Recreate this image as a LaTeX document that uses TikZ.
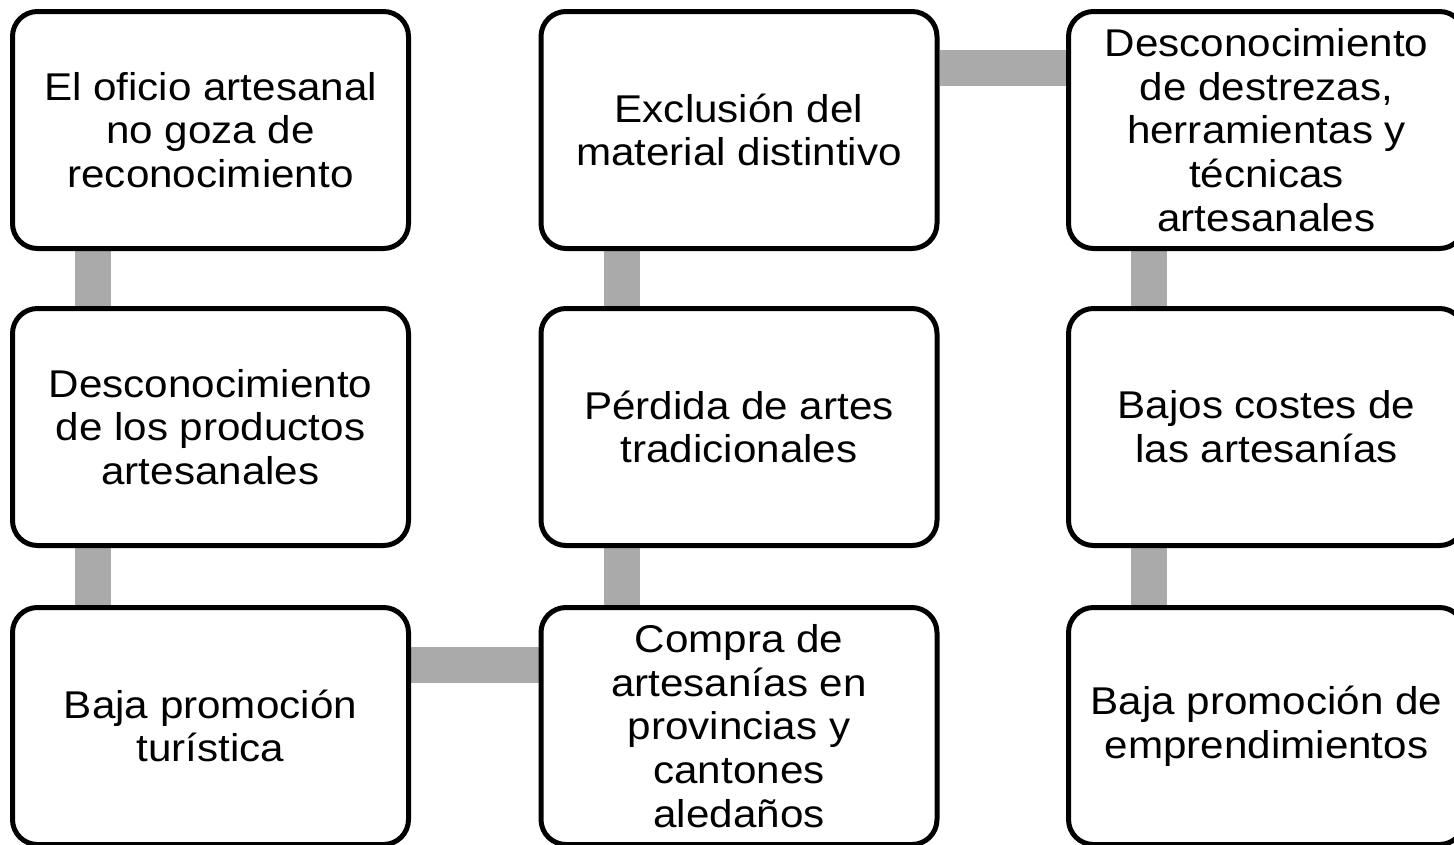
\documentclass[tikz,border=0pt]{standalone}
\usepackage{fontspec}
\setmainfont{Liberation Sans}[FakeStretch=1.09]
\usetikzlibrary{backgrounds}
\definecolor{conngray}{HTML}{AAAAAA}
\tikzset{
  box/.style={draw=black, line width=5pt, fill=white, rounded corners=25pt,
    minimum width=396pt, minimum height=237pt, inner sep=0pt, align=center,
    font=\fontsize{38.7}{43.8}\selectfont},
  conn/.style={draw=conngray, line width=36pt}
}
\begin{document}
\begin{tikzpicture}[x=1pt,y=-1pt]
\useasboundingbox (0,0) rectangle (1454,844);
\node[box] (b1) at (210.5,130) {El oficio artesanal\\no goza de\\reconocimiento};
\node[box] (b2) at (210.5,427) {Desconocimiento\\de los productos\\artesanales};
\node[box] (b3) at (210.5,726) {Baja promoción\\turística};
\node[box] (b4) at (739,130) {Exclusión del\\material distintivo};
\node[box] (b5) at (739,427) {Pérdida de artes\\tradicionales};
\node[box] (b6) at (739,726) {Compra de\\artesanías en\\provincias y\\cantones\\aledaños};
\node[box] (b7) at (1266.5,130) {Desconocimiento\\de destrezas,\\herramientas y\\técnicas\\artesanales};
\node[box] (b8) at (1266.5,427) {Bajos costes de\\las artesanías};
\node[box] (b9) at (1266.5,726) {Baja promoción de\\emprendimientos};
\begin{pgfonlayer}{background}
\draw[conn] ([xshift=-117.5pt]b1.south) -- ([xshift=-117.5pt]b2.north);
\draw[conn] ([xshift=-117.5pt]b2.south) -- ([xshift=-117.5pt]b3.north);
\draw[conn] ([yshift=61pt]b3.east) -- ([yshift=61pt]b6.west);
\draw[conn] ([xshift=-117.5pt]b6.north) -- ([xshift=-117.5pt]b5.south);
\draw[conn] ([xshift=-117.5pt]b5.north) -- ([xshift=-117.5pt]b4.south);
\draw[conn] ([yshift=62pt]b4.east) -- ([yshift=62pt]b7.west);
\draw[conn] ([xshift=-117.5pt]b7.south) -- ([xshift=-117.5pt]b8.north);
\draw[conn] ([xshift=-117.5pt]b8.south) -- ([xshift=-117.5pt]b9.north);
\end{pgfonlayer}
\end{tikzpicture}
\end{document}
